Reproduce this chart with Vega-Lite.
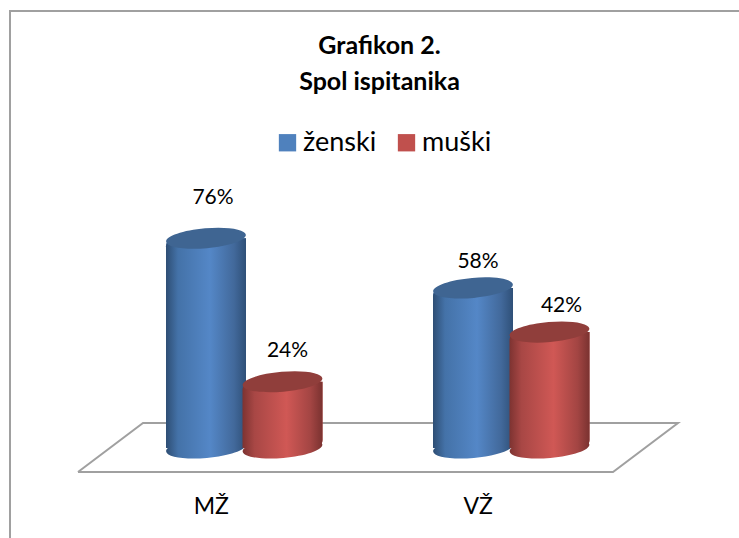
{
"$schema":"https://vega.github.io/schema/vega-lite/v6.json",
"width":739,"height":448,
"autosize":{"type":"none"},
"padding":{"left":0,"top":90,"right":0,"bottom":0},
"background":"white",
"config":{"view":{"stroke":null},"font":"Lato"},
"title":{"text":["Grafikon 2.","Spol ispitanika"],"font":"Lato","fontSize":25,"fontWeight":"bold","color":"#000000","lineHeight":36,"anchor":"middle","dx":10,"offset":-88},
"datasets":{
"main":[
{"k":"MŽ","s":"ženski","v":76,"label":"76%"},
{"k":"MŽ","s":"muški","v":24,"label":"24%"},
{"k":"VŽ","s":"ženski","v":58,"label":"58%"},
{"k":"VŽ","s":"muški","v":42,"label":"42%"}],
"lines":[
{"g":"frame","i":0,"px":739,"val":158.3},
{"g":"frame","i":1,"px":10,"val":158.3},
{"g":"frame","i":2,"px":10,"val":-32.6},
{"g":"floor","i":0,"px":78,"val":-8.7},
{"g":"floor","i":1,"px":143,"val":9.06},
{"g":"floor","i":2,"px":678,"val":9.06},
{"g":"floor","i":3,"px":613,"val":-8.7},
{"g":"floor","i":4,"px":78,"val":-8.7}]
},
"resolve":{"scale":{"x":"independent"}},
"layer":[
{"data":{"name":"lines"},
 "mark":{"type":"line","stroke":"#a0a0a0","strokeWidth":2,"clip":false},
 "encoding":{
  "x":{"field":"px","type":"quantitative","scale":{"domain":[0,739],"range":[0,739]},"axis":null},
  "y":{"field":"val","type":"quantitative","scale":{"domain":[-32.61,129.71]},"axis":null},
  "detail":{"field":"g"},
  "order":{"field":"i"}}},
{"data":{"name":"main"},
 "encoding":{
  "x":{"field":"k","type":"nominal","scale":{"domain":["MŽ","VŽ"],"range":[110.75,644.75],"padding":0},
   "axis":{"title":null,"domain":false,"ticks":false,"labelAngle":0,"labelFont":"Lato","labelFontSize":23,"labelColor":"#000000","labelPadding":2,"labelOffset":-33,"offset":-45,"grid":false}},
  "xOffset":{"field":"s","type":"nominal","scale":{"domain":["ženski","muški"],"range":[57,210],"padding":0}},
  "y":{"field":"v","type":"quantitative","scale":{"domain":[-32.61,129.71]},"axis":null}
 },
 "layer":[
 {"mark":{"type":"bar","width":80,"cornerRadiusTopLeft":8,"cornerRadiusBottomRight":8},
  "encoding":{"y2":{"datum":0},
   "color":{"field":"s","type":"nominal","scale":{"domain":["ženski","muški"],"range":["#4f81bd","#c0504d"]},
    "legend":{"title":null,"orient":"none","legendX":274,"legendY":39,"direction":"horizontal","columns":2,"symbolType":"square","symbolSize":300,"symbolStrokeWidth":0,"labelFont":"Lato","labelFontSize":27,"labelColor":"#000000","columnPadding":16,"labelOffset":2,"symbolOpacity":1}}}},
 {"transform":[{"filter":"datum.s==='ženski'"}],
  "layer":[
  {"mark":{"type":"point","filled":true,"opacity":1,"size":6400,"angle":-5,"shape":"M -1 0 A 1 0.25 0 1 1 1 0 A 1 0.25 0 1 1 -1 0 Z",
    "fill":{"gradient":"linear","x1":0,"x2":1,"y1":0,"y2":0,"stops":[{"offset":0,"color":"#2e4e74"},{"offset":0.15,"color":"#4472a8"},{"offset":0.55,"color":"#5487c7"},{"offset":0.85,"color":"#42699b"},{"offset":1,"color":"#2f5078"}]}},
   "encoding":{"y":{"datum":0}}},
  {"mark":{"type":"bar","width":80,"cornerRadiusTopLeft":8,"cornerRadiusBottomRight":8,
    "fill":{"gradient":"linear","x1":0,"x2":1,"y1":0,"y2":0,"stops":[{"offset":0,"color":"#2e4e74"},{"offset":0.15,"color":"#4472a8"},{"offset":0.55,"color":"#5487c7"},{"offset":0.85,"color":"#42699b"},{"offset":1,"color":"#2f5078"}]}},
   "encoding":{"y2":{"datum":0}}},
  {"mark":{"type":"point","filled":true,"opacity":1,"size":6400,"angle":-5,"shape":"M -1 0 A 1 0.25 0 1 1 1 0 A 1 0.25 0 1 1 -1 0 Z","fill":"#3f6592"}}
  ]},
 {"transform":[{"filter":"datum.s==='muški'"}],
  "layer":[
  {"mark":{"type":"point","filled":true,"opacity":1,"size":6400,"angle":-5,"shape":"M -1 0 A 1 0.25 0 1 1 1 0 A 1 0.25 0 1 1 -1 0 Z",
    "fill":{"gradient":"linear","x1":0,"x2":1,"y1":0,"y2":0,"stops":[{"offset":0,"color":"#7d3331"},{"offset":0.15,"color":"#a84745"},{"offset":0.55,"color":"#d05855"},{"offset":0.85,"color":"#a34543"},{"offset":1,"color":"#7a3230"}]}},
   "encoding":{"y":{"datum":0}}},
  {"mark":{"type":"bar","width":80,"cornerRadiusTopLeft":8,"cornerRadiusBottomRight":8,
    "fill":{"gradient":"linear","x1":0,"x2":1,"y1":0,"y2":0,"stops":[{"offset":0,"color":"#7d3331"},{"offset":0.15,"color":"#a84745"},{"offset":0.55,"color":"#d05855"},{"offset":0.85,"color":"#a34543"},{"offset":1,"color":"#7a3230"}]}},
   "encoding":{"y2":{"datum":0}}},
  {"mark":{"type":"point","filled":true,"opacity":1,"size":6400,"angle":-5,"shape":"M -1 0 A 1 0.25 0 1 1 1 0 A 1 0.25 0 1 1 -1 0 Z","fill":"#903e3b"}}
  ]},
 {"transform":[{"filter":"datum.v===76"}],"mark":{"type":"text","font":"Lato","fontSize":21,"color":"#000000","dx":7,"dy":-40},"encoding":{"text":{"field":"label","type":"nominal"}}},
 {"transform":[{"filter":"datum.v===24"}],"mark":{"type":"text","font":"Lato","fontSize":21,"color":"#000000","dx":5,"dy":-31},"encoding":{"text":{"field":"label","type":"nominal"}}},
 {"transform":[{"filter":"datum.v===58"}],"mark":{"type":"text","font":"Lato","fontSize":21,"color":"#000000","dx":5,"dy":-26},"encoding":{"text":{"field":"label","type":"nominal"}}},
 {"transform":[{"filter":"datum.v===42"}],"mark":{"type":"text","font":"Lato","fontSize":21,"color":"#000000","dx":12,"dy":-26},"encoding":{"text":{"field":"label","type":"nominal"}}}
 ]}
]
}
